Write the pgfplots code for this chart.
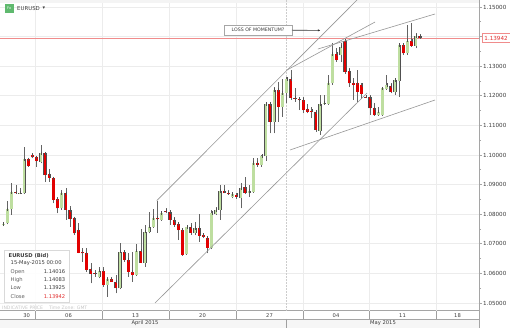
\documentclass[border=0pt]{standalone}
\usepackage{pgfplots}
\pgfplotsset{compat=1.18}
\usepackage{pgfplotstable}
\usetikzlibrary{arrows.meta}
\usepackage{fontspec}
\setmainfont{DejaVu Sans}
\definecolor{gridc}{RGB}{236,236,236}
\definecolor{axc}{RGB}{165,165,165}
\definecolor{candgreen}{RGB}{190,222,160}
\definecolor{candred}{RGB}{226,0,0}
\definecolor{candedge}{RGB}{80,80,80}
\definecolor{wickc}{RGB}{100,100,100}
\definecolor{trend}{RGB}{150,150,150}
\definecolor{pricered}{RGB}{240,140,140}
\definecolor{pricetxt}{RGB}{225,45,45}
\definecolor{txt}{RGB}{60,60,60}
\definecolor{iconc}{RGB}{95,185,110}

% rising candles (close >= open)
\pgfplotstableread{
x o h l c
1 1.07645 1.07713 1.07601 1.07669
2 1.07693 1.08446 1.07659 1.08166
3 1.08166 1.09044 1.07973 1.08740
5 1.08706 1.08875 1.08682 1.08723
6 1.08706 1.10280 1.08682 1.09855
10 1.09774 1.10338 1.09720 1.10057
15 1.08199 1.08818 1.08142 1.08706
24 1.05888 1.06226 1.05834 1.06091
26 1.05608 1.05888 1.05213 1.05801
29 1.05497 1.07037 1.05463 1.06733
33 1.05946 1.06993 1.05912 1.06767
35 1.06361 1.07635 1.06226 1.07409
36 1.07409 1.08074 1.07355 1.07578
37 1.07578 1.08176 1.07534 1.07872
39 1.07804 1.08084 1.07780 1.08040
45 1.06645 1.07578 1.06622 1.07568
47 1.07365 1.07747 1.07297 1.07534
51 1.06858 1.08142 1.06814 1.08040
52 1.08007 1.08253 1.07973 1.08142
53 1.08142 1.08987 1.07804 1.08784
56 1.08581 1.08760 1.08537 1.08682
58 1.08547 1.09044 1.08199 1.08885
60 1.08716 1.08987 1.08591 1.08784
61 1.08750 1.09889 1.08726 1.09730
63 1.09662 1.10000 1.09605 1.09966
64 1.09966 1.11767 1.09807 1.11723
66 1.11115 1.12287 1.10733 1.12196
68 1.11622 1.12557 1.11294 1.12095
69 1.12095 1.12645 1.11747 1.12568
77 1.10821 1.12027 1.10676 1.11723
78 1.11723 1.12027 1.11689 1.11767
79 1.11723 1.12703 1.11689 1.12432
80 1.12432 1.13774 1.12365 1.13412
82 1.13378 1.13774 1.13152 1.13659
91 1.11351 1.11632 1.11318 1.11463
92 1.11351 1.12287 1.11318 1.12253
93 1.12230 1.12703 1.12196 1.12365
95 1.12139 1.12591 1.12027 1.12534
96 1.12500 1.13794 1.11970 1.13716
98 1.13436 1.14392 1.13378 1.13862
100 1.13683 1.14132 1.13605 1.14020
}\upc

% falling candles (close < open)
\pgfplotstableread{
x o h l c
4 1.08740 1.08987 1.08682 1.08706
7 1.09855 1.09889 1.09605 1.09628
8 1.09990 1.10057 1.09889 1.09922
9 1.09922 1.09966 1.09605 1.09807
11 1.10057 1.10078 1.09098 1.09324
12 1.09348 1.09517 1.09098 1.09233
13 1.09213 1.09267 1.08368 1.08480
14 1.08503 1.08591 1.08030 1.08199
16 1.08706 1.08875 1.07804 1.08142
17 1.08142 1.08277 1.07578 1.07828
18 1.07862 1.07895 1.07297 1.07355
19 1.07466 1.07693 1.06679 1.06699
20 1.06733 1.06848 1.06395 1.06679
21 1.06679 1.06848 1.06057 1.06115
22 1.06138 1.06341 1.05665 1.05980
23 1.06003 1.06115 1.05888 1.05980
25 1.06091 1.06206 1.05551 1.05608
27 1.05801 1.05888 1.05710 1.05720
28 1.05720 1.05946 1.05328 1.05497
30 1.06733 1.06791 1.06395 1.06453
31 1.06453 1.06679 1.05888 1.06057
32 1.06057 1.06733 1.05720 1.05946
34 1.06767 1.07490 1.06341 1.06361
38 1.07872 1.08456 1.07365 1.07821
40 1.08120 1.08199 1.08030 1.08060
41 1.08074 1.08142 1.07635 1.07804
42 1.07804 1.07916 1.07578 1.07635
43 1.07669 1.07747 1.07128 1.07466
44 1.07466 1.07524 1.06588 1.06622
46 1.07568 1.07693 1.07297 1.07365
48 1.07534 1.08007 1.07071 1.07264
49 1.07297 1.07355 1.07186 1.07230
50 1.07196 1.07240 1.06679 1.06858
54 1.08784 1.08987 1.08706 1.08716
55 1.08716 1.08818 1.08649 1.08682
57 1.08649 1.08726 1.08514 1.08581
59 1.08919 1.09247 1.08682 1.08716
62 1.09730 1.09889 1.09605 1.09662
65 1.11723 1.11801 1.10733 1.11115
67 1.12196 1.12476 1.11125 1.11622
70 1.12568 1.12872 1.11858 1.11926
71 1.11926 1.12253 1.11801 1.11892
72 1.11892 1.11970 1.11520 1.11858
73 1.11858 1.11970 1.11409 1.11520
74 1.11544 1.11723 1.11409 1.11463
75 1.11497 1.11611 1.11240 1.11453
76 1.11453 1.11520 1.10787 1.10845
81 1.13412 1.13605 1.13152 1.13209
83 1.13862 1.13909 1.12737 1.12814
84 1.12848 1.12929 1.12307 1.12422
85 1.12443 1.12591 1.11858 1.12365
86 1.12422 1.12872 1.11801 1.12139
87 1.12365 1.12422 1.11882 1.12061
88 1.11970 1.12027 1.11916 1.11960
89 1.11949 1.12027 1.11351 1.11578
90 1.11578 1.11747 1.11318 1.11351
94 1.12331 1.12443 1.12084 1.12139
97 1.13716 1.13794 1.13378 1.13436
99 1.13862 1.14459 1.13659 1.13683
101 1.14016 1.14083 1.13925 1.13942
}\downc

\pgfplotsset{
  wick/.style={draw=none, mark=none,
    error bars/y dir=plus, error bars/y explicit, error bars/error mark=none,
    error bars/error bar style={draw=wickc, line width=0.5pt, solid}},
  bodyedge/.style={draw=none, mark=none,
    error bars/y dir=plus, error bars/y explicit, error bars/error mark=none,
    error bars/error bar style={draw=candedge, line width=3.1pt, solid}},
  bodyfill/.style={draw=none, mark=none,
    error bars/y dir=plus, error bars/y explicit, error bars/error mark=-,
    error bars/error bar style={draw=#1, line width=2.5pt, solid},
    error bars/error mark options={draw=candedge, line width=0.3pt, mark size=1.55pt, solid}},
}

\begin{document}
\begin{tikzpicture}[x=1pt,y=1pt]
\begin{axis}[
  scale only axis, width=479pt, height=311pt,
  xmin=0.208, xmax=115.16,
  ymin=1.047297, ymax=1.152365,
  axis x line*=bottom, axis y line*=right,
  axis line style={draw=axc, line width=1pt},
  tick align=outside,
  major tick length=3pt, minor tick length=2pt,
  xtick style={draw=none},
  ytick style={draw=axc, line width=0.6pt},
  ytick={1.05,1.06,1.07,1.08,1.09,1.10,1.11,1.12,1.13,1.15},
  extra y ticks={1.14},
  extra y tick labels={},
  extra y tick style={grid=major},
  minor ytick={1.055,1.065,1.075,1.085,1.095,1.105,1.115,1.125,1.135,1.145},
  ymajorgrids=true,
  grid style={gridc, line width=0.6pt},
  yticklabel style={font=\fontsize{5.6}{6.5}\selectfont, text=txt, anchor=west, inner sep=0pt, xshift=1pt},
  /pgf/number format/fixed,
  /pgf/number format/fixed zerofill,
  /pgf/number format/precision=5,
  /pgf/number format/assume math mode=true,
  xtick={6.616,16.648,32.728,48.808,64.888,80.848,96.808,110.008},
  xticklabels={30,06,13,20,27,04,11,18},
  xticklabel style={font=\fontsize{5.2}{6}\selectfont, text=txt, anchor=center, inner sep=0pt, yshift=-1.5pt},
  extra x ticks={8.608,24.688,40.768,56.848,72.928,88.768,104.848},
  extra x tick labels={},
  extra x tick style={grid=major},
]
\coordinate (SW) at (rel axis cs:0,0);
\fill[gray!9] (rel axis cs:0,0.9904) rectangle (rel axis cs:1,1);
% current price line
\addplot[pricered, line width=0.9pt] coordinates {(0.208,1.13942) (115.16,1.13942)};
% month boundary
\addplot[gray!40, line width=0.5pt, dash pattern=on 1.5pt off 1.5pt] coordinates {(68.85,1.047297) (68.85,1.152365)};
% wicks
\addplot[wick] table[x=x, y=l, y error expr=\thisrow{h}-\thisrow{l}] {\upc};
\addplot[wick] table[x=x, y=l, y error expr=\thisrow{h}-\thisrow{l}] {\downc};
% bodies
\addplot[bodyedge] table[x=x, y=o, y error expr=\thisrow{c}-\thisrow{o}] {\upc};
\addplot[bodyfill=candgreen] table[x=x, y=o, y error expr=\thisrow{c}-\thisrow{o}] {\upc};
\addplot[bodyedge] table[x=x, y=c, y error expr=\thisrow{o}-\thisrow{c}] {\downc};
\addplot[bodyfill=candred] table[x=x, y=c, y error expr=\thisrow{o}-\thisrow{c}] {\downc};
% trend lines
\addplot[trend, line width=0.6pt] coordinates {(37.816,1.08456) (88.29,1.15574)};
\addplot[trend, line width=0.6pt] coordinates {(37.407,1.05000) (88.29,1.12095)};
\addplot[trend, line width=0.6pt] coordinates {(69.806,1.10169) (104.608,1.11858)};
\addplot[trend, line width=0.6pt] coordinates {(69.09,1.12872) (90.21,1.14493)};
\addplot[trend, line width=0.6pt] coordinates {(76.5,1.13581) (104.608,1.14764)};
\end{axis}
\pgfresetboundingbox
\begin{scope}[shift={(SW)}, yshift=-17pt]
\path[use as bounding box] (0,0) rectangle (510,328);
\fill[gray!7] (0,0) rectangle (479,9);
\draw[axc, line width=1pt] (479,0) -- (479,17);
\draw[axc, line width=0.6pt] (0,9) -- (479,9);
\foreach \xx in {35,102,169,236,303,369,436} \draw[gray!75, line width=0.8pt] (\xx,17) -- (\xx,9);
\draw[gray!75, line width=0.8pt] (286,9) -- (286,0);
\node[font=\fontsize{5.2}{6}\selectfont, text=txt] at (145,4.5) {April 2015};
\node[font=\fontsize{5.2}{6}\selectfont, text=txt] at (383,4.5) {May 2015};
% header
\fill[iconc] (5,315) rectangle (13.5,324);
\node[font=\fontsize{3.6}{4}\selectfont, text=white] at (9.25,319.5) {Fx};
\node[font=\fontsize{5.4}{6}\selectfont, text=txt, anchor=west, inner sep=0pt] at (17,319.6) {EURUSD};
\node[font=\fontsize{5}{6}\selectfont, text=txt, inner sep=0pt] at (44,319.6) {▾};
% info box
\filldraw[fill=white, fill opacity=0.9, draw=gray!30, line width=0.5pt] (4,26) rectangle (69,78);
\node[font=\bfseries\fontsize{5.2}{6}\selectfont, text=txt, anchor=west, inner sep=0pt] at (8.5,72.3) {EURUSD (Bid)};
\node[font=\fontsize{5.2}{6}\selectfont, text=txt, anchor=west, inner sep=0pt] at (10.5,64.5) {15-May-2015 00:00};
\node[font=\fontsize{5.2}{6}\selectfont, text=gray!75!black, anchor=west, inner sep=0pt] at (10.5,56.2) {Open};
\node[font=\fontsize{5.2}{6}\selectfont, text=txt, anchor=east, inner sep=0pt] at (65.5,56.2) {1.14016};
\node[font=\fontsize{5.2}{6}\selectfont, text=gray!75!black, anchor=west, inner sep=0pt] at (10.5,48.2) {High};
\node[font=\fontsize{5.2}{6}\selectfont, text=txt, anchor=east, inner sep=0pt] at (65.5,48.2) {1.14083};
\node[font=\fontsize{5.2}{6}\selectfont, text=gray!75!black, anchor=west, inner sep=0pt] at (10.5,40.0) {Low};
\node[font=\fontsize{5.2}{6}\selectfont, text=txt, anchor=east, inner sep=0pt] at (65.5,40.0) {1.13925};
\node[font=\fontsize{5.2}{6}\selectfont, text=gray!75!black, anchor=west, inner sep=0pt] at (10.5,31.6) {Close};
\node[font=\fontsize{5.2}{6}\selectfont, text=pricetxt, anchor=east, inner sep=0pt] at (65.5,31.6) {1.13942};
\node[font=\fontsize{4.6}{5}\selectfont, text=gray!45, anchor=west, inner sep=0pt] at (2,20.6) {INDICATIVE PRICE\hspace{6pt}Time Zone: GMT};
% annotation
\node[draw=gray!70, fill=white, line width=0.5pt, font=\fontsize{4.7}{5}\selectfont, text=txt, minimum width=67.5pt, minimum height=10pt, inner sep=0pt] at (258,298) {LOSS OF MOMENTUM?};
\draw[-{Latex[length=2.6pt,width=2.2pt]}, gray!40!black, line width=0.6pt] (291.8,297.8) -- (320.5,297.6);
% price label
\node[draw=pricered, fill=white, line width=0.6pt, text=pricetxt, font=\fontsize{5.6}{6.5}\selectfont, inner sep=0pt, minimum width=28.5pt, minimum height=9pt, anchor=west] at (481.5,289.7) {1.13942};
\end{scope}
\end{tikzpicture}
\end{document}
